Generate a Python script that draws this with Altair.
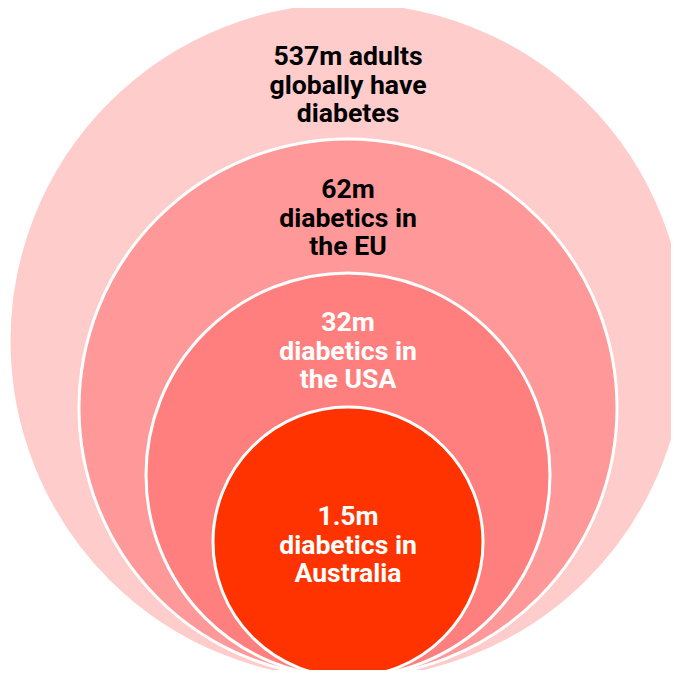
import altair as alt
import pandas as pd

# data
regions = ["Global", "EU", "USA", "Australia"]
cases_m = [537, 62, 32, 1.5]
labels = [
    "537m adults\nglobally have\ndiabetes",
    "62m\ndiabetics in\nthe EU",
    "32m\ndiabetics in\nthe USA",
    "1.5m\ndiabetics in\nAustralia",
]

# styling / layout (pixels, plot-area coordinates)
W, H = 663, 662
base_y = 669
radii = [336, 269, 202, 135]
center_x = 340
label_y = [49, 182, 315, 509]
fills = ["#FFCCCC", "#FF9999", "#FF7F7F", "#FF3300"]
text_colors = ["#000000", "#000000", "#FFFFFF", "#FFFFFF"]
strokes = ["#FFCCCC", "#FFFFFF", "#FFFFFF", "#FFFFFF"]

df = pd.DataFrame({
    "region": regions,
    "cases": cases_m,
    "label": labels,
    "r": radii,
    "ly": label_y,
    "cx": [center_x] * len(regions),
})
df["cy"] = base_y - df["r"]
df["sz"] = 4 * df["r"] ** 2

xs = alt.Scale(domain=[0, W], nice=False, zero=False)
ys = alt.Scale(domain=[0, H], nice=False, zero=False, reverse=True)

circles = alt.Chart(df).mark_circle(opacity=1, strokeWidth=3, strokeOpacity=1).encode(
    x=alt.X("cx:Q", scale=xs, axis=None),
    y=alt.Y("cy:Q", scale=ys, axis=None),
    size=alt.Size("sz:Q", scale=None, legend=None),
    color=alt.Color("region:N", scale=alt.Scale(domain=regions, range=fills), legend=None),
    stroke=alt.Stroke("region:N", scale=alt.Scale(domain=regions, range=strokes), legend=None),
)

texts = alt.Chart(df).mark_text(
    font="Roboto", fontWeight="bold", fontSize=26.6, lineBreak="\n",
    lineHeight=28.5, align="center", baseline="middle",
).encode(
    x=alt.X("cx:Q", scale=xs, axis=None),
    y=alt.Y("ly:Q", scale=ys, axis=None),
    text="label:N",
    fill=alt.Fill("region:N", scale=alt.Scale(domain=regions, range=text_colors), legend=None),
)

chart = alt.layer(circles, texts).properties(
    width=W, height=H, padding=0,
    autosize=alt.AutoSizeParams(type="none"),
).configure_view(stroke=None).resolve_scale(color="independent", fill="independent")

chart.save("out.html", embed_options={"renderer": "svg", "actions": False})
